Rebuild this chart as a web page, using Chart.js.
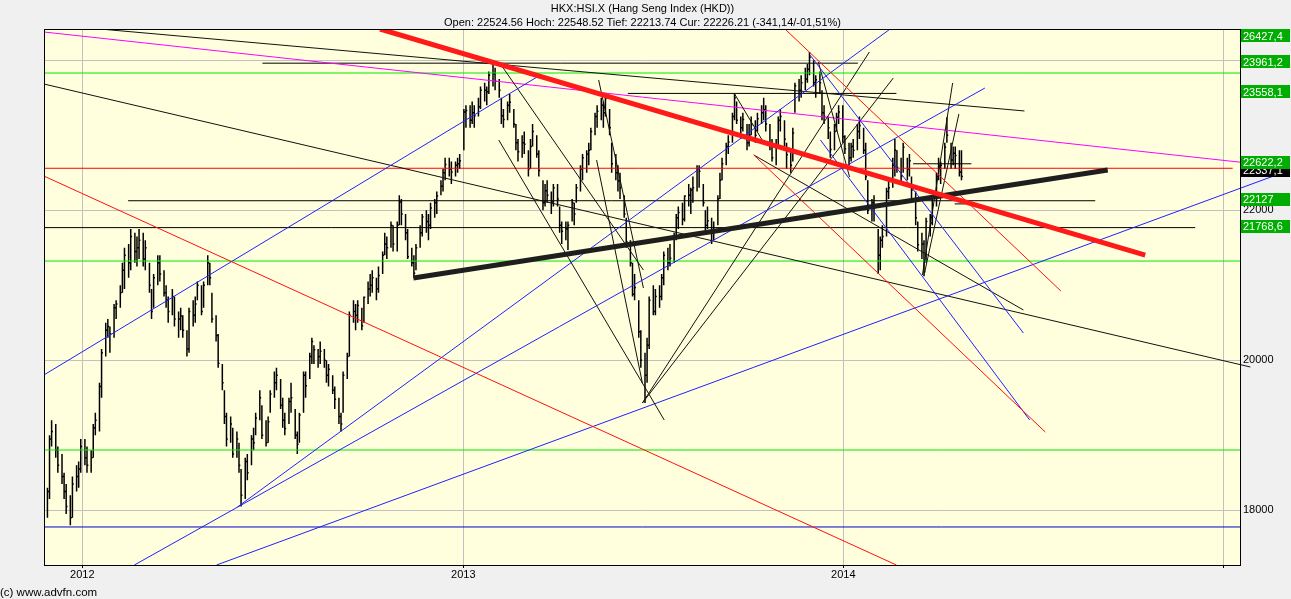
<!DOCTYPE html>
<html>
<head>
<meta charset="utf-8">
<title>HKX:HSI.X</title>
<script src="https://cdn.jsdelivr.net/npm/chart.js@4.4.1/dist/chart.umd.min.js"></script>
<style>
  html, body { margin: 0; padding: 0; background: #f0f0f0; }
  #wrap { position: relative; width: 1291px; height: 599px; font-family: "Liberation Sans", Arial, sans-serif; color: #000; }
  #c { position: absolute; left: 0; top: 0; }
  #head { position: absolute; left: 44px; width: 1197px; top: 2px; text-align: center; font-size: 11px; line-height: 13.5px; }
  #copy { position: absolute; left: 0; top: 585px; font-size: 11.5px; line-height: 14px; }
</style>
</head>
<body>
<div id="wrap">
  <canvas id="c" width="1291" height="599"></canvas>
  <div id="head">HKX:HSI.X (Hang Seng Index (HKD))<br>Open: 22524.56 Hoch: 22548.52 Tief: 22213.74 Cur: 22226.21 (-341,14/-01,51%)</div>
  <div id="copy">(c) www.advfn.com</div>
</div>
<script>
// x values are days counted from 1 Jan 2012
const yearTickDays = [0, 366, 731, 1096];
const yearLabels = ['2012', '2013', '2014', ''];
const priceTicks = [18000, 20000, 22000, 24000];

// one bar per two trading days, starting Mon 28 Nov 2011
const firstBarDate = '2011-11-28';
const barLow = [
  17900,18150,18850,18700,18500, 18350,18150,17950,17800,17900,
  18250,18300,18500,18600,18500, 18500,18700,19000,19050,19500,
  20050,20300,20100,20300,20550, 20700,20900,20950,21100,21200,
  21300,21250,21350,21250,21200, 20900,20550,20700,21000,21050,
  20850,20700,20500,20600,20450, 20300,20400,20300,20050,20100,
  20450,20500,20800,20600,20700, 21000,21000,20500,20250,19900,
  19600,19150,18850,18900,18700, 18700,18500,18050,18150,18400,
  18600,18800,19000,19200,18950, 18850,18900,19300,19500,19600,
  19350,19100,19000,19150,19300, 18950,18750,18900,19300,19500,
  19750,19950,19950,19900,19950, 19900,19700,19650,19550,19350,
  19150,19050,19300,19750,20050, 20500,20400,20500,20400,20500,
  20750,20850,20900,20800,20900, 21150,21400,21350,21500,21450,
  21450,21800,21800,21600,21350, 21250,21100,21200,21500,21650,
  21700,21600,21750,21900,21950, 22200,22250,22400,22450,22350,
  22450,22500,22550,22800,23100, 23100,23150,23100,23250,23350,
  23450,23400,23550,23650,23600, 23500,23150,23100,23200,23300,
  23100,22800,22650,22700,22750, 22450,22550,22850,22700,22450,
  22000,22050,22100,21950,22050, 22050,21700,21550,21600,21470,
  21850,21800,22100,22250,22400, 22500,22600,22800,23000,23100,
  23200,23100,23250,23000,22500, 22400,22250,22150,21900,21500,
  21250,20850,20800,20300,19900, 19430,19700,20150,20600,20600,
  20700,20800,21000,21200,21250, 21300,21600,21750,21800,21850,
  22050,21950,22100,22250,22300, 22050,21700,21750,21550,21600,
  21800,22150,22400,22600,22750, 22900,23200,23150,22950,23050,
  22800,22850,23000,22900,23050, 23150,23200,23050,22800,22650,
  22600,22850,23050,22850,22550, 22500,22650,23300,23450,23500,
  23600,23700,23800,23650,23500, 23550,23200,23150,22950,22700,
  22800,23050,23150,22900,22750, 22600,22650,22700,22800,22950,
  22750,22400,21950,21850,21850, 21150,21200,21500,21650,22150,
  22300,22450,22500,22350,22500, 22400,22450,22100,21800,21450,
  21350,21120,21300,21650,21800, 22050,22400,22350,22550,22900,
  22550,22600,22550,22450,22400
];
const barHigh = [
  18300,19000,19200,19150,18850, 18750,18500,18350,18200,18450,
  18600,18650,18950,18950,18850, 18800,19150,19300,19700,20150,
  20500,20550,20450,20750,20800, 21000,21300,21500,21550,21750,
  21700,21650,21750,21700,21600, 21300,20950,21150,21400,21400,
  21200,21000,20850,20950,20850, 20650,20700,20600,20400,20700,
  20800,20850,21050,21000,21050, 21400,21300,20900,20600,20350,
  19950,19600,19300,19250,19100, 19050,18900,18550,18700,18750,
  19000,19100,19300,19600,19400, 19200,19250,19600,19850,19900,
  19750,19500,19300,19500,19700, 19350,19050,19300,19850,19850,
  20100,20300,20200,20150,20250, 20150,20000,19950,19800,19650,
  19500,19300,19850,20100,20650, 20800,20750,20800,20700,20850,
  21050,21150,21200,21100,21250, 21450,21700,21650,21850,21800,
  21850,22200,22150,21950,21750, 21500,21400,21550,21800,21950,
  22000,21950,22100,22150,22250, 22400,22550,22700,22700,22650,
  22650,22700,22750,23350,23400, 23400,23450,23400,23500,23650,
  23700,23650,23850,23950,23900, 23750,23500,23350,23450,23550,
  23350,23150,22950,23000,23050, 22800,22950,23150,23000,22800,
  22400,22350,22400,22250,22350, 22350,22050,21850,21850,21850,
  22150,22100,22350,22600,22750, 22800,22900,23100,23300,23400,
  23500,23450,23560,23350,22900, 22750,22600,22500,22200,21900,
  21600,21300,21150,20800,20400, 20100,20300,20850,21000,20950,
  21000,21150,21450,21500,21550, 21700,21950,22050,22100,22200,
  22350,22300,22450,22600,22600, 22350,22000,22050,21900,21850,
  22200,22500,22700,22900,23000, 23300,23560,23450,23250,23300,
  23150,23150,23250,23200,23300, 23400,23500,23400,23150,22950,
  22950,23250,23350,23200,22900, 22800,23100,23700,23750,23800,
  23900,23950,24110,24000,23800, 23850,23600,23400,23250,23050,
  23150,23300,23400,23400,23000, 22900,22900,22950,23150,23250,
  23100,22900,22400,22150,22200, 21750,21650,21800,22300,22400,
  22700,22950,22800,22700,22900, 22700,22750,22450,22250,21850,
  21700,21600,21900,21950,22150, 22500,22700,22650,22900,23240,
  22900,22850,22850,22800,22800
];
const barClose = [
  18250,18950,19050,18800,18600, 18450,18250,18050,17900,18350,
  18450,18550,18850,18700,18600, 18700,19100,19200,19650,20100,
  20400,20450,20350,20700,20750, 20900,21200,21400,21300,21650,
  21450,21500,21600,21350,21500, 21000,20650,21100,21300,21150,
  20900,20800,20650,20850,20550, 20550,20590,20400,20150,20650,
  20600,20750,21000,20650,21000, 21300,21100,20550,20330,19960,
  19700,19250,18950,19150,18750, 18950,18600,18200,18650,18500,
  18950,18900,19230,19500,19000, 18900,19180,19550,19700,19800,
  19400,19200,19090,19450,19500, 19000,18880,19270,19800,19660,
  20050,20250,20140,20050,20120, 20000,19800,19880,19600,19480,
  19250,19150,19800,20050,20600, 20650,20600,20730,20460,20840,
  20950,21000,21100,20950,21130, 21400,21550,21500,21800,21550,
  21800,22110,21950,21700,21380, 21300,21160,21500,21700,21910,
  21850,21800,22030,22100,22190, 22320,22500,22610,22550,22510,
  22600,22620,22660,23310,23330, 23200,23300,23260,23380,23600,
  23600,23580,23800,23820,23720, 23600,23260,23210,23400,23440,
  23150,22900,22780,22900,22880, 22550,22850,23050,22750,22530,
  22100,22260,22200,22110,22300, 22150,21800,21720,21750,21800,
  22100,21950,22300,22550,22700, 22750,22800,23050,23250,23320,
  23400,23300,23490,23100,22620, 22500,22390,22300,21950,21580,
  21300,20880,20970,20380,20000, 19800,20200,20800,20650,20850,
  20850,21100,21400,21300,21360, 21650,21900,21970,21880,22190,
  22200,22270,22300,22550,22520, 22100,21800,21860,21700,21730,
  22150,22400,22620,22850,22910, 23250,23500,23200,23100,23210,
  22900,23000,23140,23000,23220, 23300,23340,23150,22900,22700,
  22850,23200,23250,22950,22740, 22600,23030,23660,23600,23700,
  23750,23880,24040,23700,23740, 23700,23300,23250,23100,22810,
  23050,23240,23310,22980,22820, 22700,22850,22800,23050,23130,
  22800,22450,22000,22100,22030, 21400,21600,21650,22250,22300,
  22600,22800,22570,22450,22840, 22550,22660,22270,21900,21540,
  21550,21180,21850,21830,22070, 22450,22560,22600,22840,23000,
  22670,22760,22730,22510,22450
];

// drawn levels: value, or [value, fromDay, toDay]
const greenLevels = [23830, 21323, 18803];
const navyLevel = 17777;
const redLevel = [22560, -37, 1105];
const blackLevels = [
  [23961.2, 173, 745], [23558.1, 524, 782], [22127, 44, 973],
  [21768.6, -37, 1069], [22620, 798, 854], [22085, 838, 848]
];

// trend lines: [day1, price1, day2, price2]
const magentaLine = [-37, 24377, 1113, 22640];
const thickRedLine = [286, 24417, 1021, 21403];
const thickBlackLine = [318, 21097, 985, 22537];
const redLines = [
  [-37, 22457, 782, 17270], [645, 22737, 925, 19043], [675, 24417, 940, 20923]
];
const blueLines = [
  [-37, 19803, 440, 23804], [149, 18043, 776, 24417], [50, 17270, 867, 23630],
  [699, 24070, 904, 20363], [709, 22937, 910, 19203]
];
const blueLongLine = [129, 17270, 1160, 22537];
const blackLongLine = [-37, 23684, 1122, 19910];
const blackLines = [
  [17, 24417, 905, 23324], [645, 22737, 904, 20670], [626, 23564, 653, 22937],
  [538, 19430, 756, 24110], [538, 19430, 779, 23764], [401, 23964, 539, 21203],
  [400, 22937, 559, 19203], [496, 23737, 539, 20963], [494, 22670, 538, 19697],
  [707, 23977, 737, 22444], [807, 21137, 836, 23697], [809, 21164, 842, 23284]
];

// price tags in the right margin
const levelTags = [26427.4, 23961.2, 23558.1, 22622.2, 22127, 21768.6];
const lastTag = 22337.1;
const lastTagBelow = 22622.2;

const FONT = '"Liberation Sans", Arial, sans-serif';

function dayNumber(iso) {
  const [y, m, d] = iso.split('-').map(Number);
  return (Date.UTC(y, m - 1, d) - Date.UTC(2012, 0, 1)) / 86400000;
}

// bar i covers trading days 2i and 2i+1 (weekends skipped)
const startDay = dayNumber(firstBarDate);
const barPoints = [];
barClose.forEach((c, i) => {
  const wd = 2 * i;
  const x = startDay + Math.floor(wd / 5) * 7 + (wd % 5) + 0.5;
  barPoints.push({x, y: barLow[i]}, {x, y: barHigh[i]}, {x, y: null});
  barPoints.push({x, y: c}, {x: x + 1.3, y: c}, {x: x + 1.3, y: null});
});

function seg(a, color, width, order, clip) {
  return {
    data: [{x: a[0], y: a[1]}, {x: a[2], y: a[3]}],
    borderColor: color, borderWidth: width, pointRadius: 0,
    tension: 0, fill: false, order: order,
    clip: clip === undefined ? 0 : clip
  };
}
const spillRight = {left: 0, top: 0, right: false, bottom: 0};

const datasets = [{
  data: barPoints, borderColor: '#000', borderWidth: 1.5,
  pointRadius: 0, tension: 0, spanGaps: false, order: 10
}];
greenLevels.forEach(v => datasets.push(seg([-37, v, 1113, v], '#00e600', 1, 6)));
datasets.push(seg([-37, navyLevel, 1113, navyLevel], '#0000c8', 1, 6));
datasets.push(seg([redLevel[1], redLevel[0], redLevel[2], redLevel[0]], '#ff0000', 1, 6, spillRight));
blackLevels.forEach(l => datasets.push(seg([l[1], l[0], l[2], l[0]], '#000', 1, 6)));
redLines.forEach(l => datasets.push(seg(l, '#ff1010', 1, 5)));
blueLines.forEach(l => datasets.push(seg(l, '#2020ff', 1, 5)));
blackLines.forEach(l => datasets.push(seg(l, '#111', 1, 5)));
datasets.push(seg(blueLongLine, '#2020ff', 1, 5, spillRight));
datasets.push(seg(blackLongLine, '#111', 1, 5, spillRight));
datasets.push(seg(magentaLine, '#ff00ff', 1, 5));
datasets.push(seg(thickBlackLine, '#1e1e1e', 5, 2));
datasets.push(seg(thickRedLine, '#ff1a1a', 5, 1));

const paper = {
  id: 'paper',
  beforeDraw(chart) {
    const {ctx, chartArea: a} = chart;
    ctx.save();
    ctx.fillStyle = '#f0f0f0';
    ctx.fillRect(0, 0, chart.width, chart.height);
    ctx.fillStyle = '#ffffdd';
    ctx.fillRect(a.left, a.top, a.right - a.left, a.bottom - a.top);
    ctx.restore();
  },
  afterDatasetsDraw(chart) {
    const {ctx, chartArea: a} = chart;
    ctx.save();
    ctx.strokeStyle = '#000';
    ctx.lineWidth = 1;
    ctx.strokeRect(a.left + 0.5, a.top + 0.5, a.right - a.left - 1, a.bottom - a.top);
    ctx.restore();
  },
  afterDraw(chart) {
    const {ctx, chartArea: a, scales: {y}} = chart;
    const fmt = v => Number.isInteger(v) ? String(v) : v.toFixed(1).replace('.', ',');
    const centre = v => Math.max(a.top + 6.5, y.getPixelForValue(v) - 1.5);
    const tag = (v, cy, bg) => {
      ctx.fillStyle = bg;
      ctx.fillRect(a.right, Math.round(cy - 6.5), 49, 13);
      ctx.fillStyle = '#fff';
      ctx.fillText(fmt(v), a.right + 2, Math.round(cy) + 0.5);
    };
    ctx.save();
    ctx.font = '11px ' + FONT;
    ctx.textBaseline = 'middle';
    ctx.textAlign = 'left';
    tag(lastTag, centre(lastTagBelow) + 8, '#000');
    levelTags.forEach(v => tag(v, centre(v), '#00ad00'));
    ctx.restore();
  }
};

new Chart(document.getElementById('c'), {
  type: 'line',
  data: {datasets},
  options: {
    responsive: false,
    animation: false,
    devicePixelRatio: 1,
    events: [],
    layout: {padding: {left: 44, top: 29, right: 0, bottom: 0}},
    plugins: {legend: {display: false}, tooltip: {enabled: false}},
    scales: {
      x: {
        type: 'linear', min: -36.8, max: 1113,
        grid: {color: '#c0c0c0', tickColor: '#000', tickLength: 3},
        border: {display: false},
        ticks: {
          autoSkip: false, maxRotation: 0, padding: 0, color: '#000',
          font: {size: 11, family: FONT},
          callback: v => yearLabels[yearTickDays.indexOf(v)] || ''
        },
        afterBuildTicks: s => { s.ticks = yearTickDays.map(v => ({value: v})); },
        afterFit: s => { s.height = 34; }
      },
      y: {
        type: 'linear', position: 'right', min: 17270, max: 24417,
        grid: {color: '#c0c0c0', drawTicks: false},
        border: {display: false},
        ticks: {padding: 2, color: '#000', font: {size: 11, family: FONT}, callback: v => String(v)},
        afterBuildTicks: s => { s.ticks = priceTicks.map(v => ({value: v})); },
        afterFit: s => { s.width = 50; }
      }
    }
  },
  plugins: [paper]
});
</script>
</body>
</html>
